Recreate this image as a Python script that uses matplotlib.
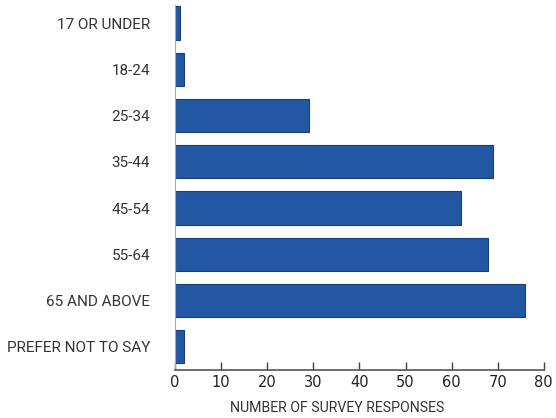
import matplotlib
matplotlib.use("Agg")
import matplotlib.pyplot as plt

categories = ["17 OR UNDER", "18-24", "25-34", "35-44", "45-54", "55-64",
              "65 AND ABOVE", "PREFER NOT TO SAY"]
values = [1, 2, 29, 69, 62, 68, 76, 2]
xticks = [0, 10, 20, 30, 40, 50, 60, 70, 80]

fig = plt.figure(figsize=(5.56, 4.18), dpi=100)
ax = fig.add_axes([0.315, 0.115, 0.663, 0.873])

ypos = list(range(len(categories)))
ax.barh(ypos, values, height=0.72, color="#2157a3", edgecolor="#1a3f78", linewidth=0.8)

ax.set_ylim(7.5, -0.39)
ax.set_xlim(0, 80)
ax.set_yticks(ypos)
ax.set_yticklabels(categories, fontsize=11, color="#333333", family="Roboto")
ax.tick_params(axis="y", length=0, pad=18)
ax.set_xticks(xticks)
ax.set_xticklabels([str(t) for t in xticks], fontsize=10.5, color="#222222", family="DejaVu Sans")
ax.tick_params(axis="x", direction="in", length=6, width=1, color="#444444", pad=4)
ax.set_xlabel("NUMBER OF SURVEY RESPONSES", fontsize=10.2, color="#333333",
              family="Roboto", labelpad=7)
ax.xaxis.set_label_coords(0.44, -0.085)

for s in ["top", "right"]:
    ax.spines[s].set_visible(False)
ax.spines["left"].set_color("#aaaaaa")
ax.spines["bottom"].set_color("#555555")
ax.spines["bottom"].set_linewidth(1.2)

fig.savefig("out.png", dpi=100)
